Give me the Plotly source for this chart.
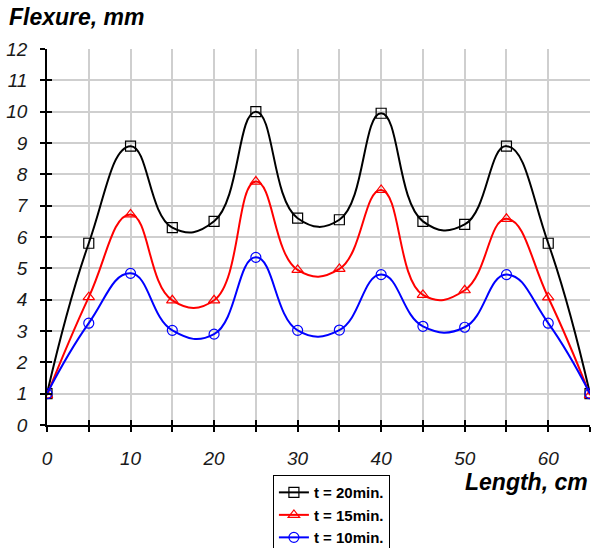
import plotly.graph_objects as go

length_cm = [0, 5, 10, 15, 20, 25, 30, 35, 40, 45, 50, 55, 60, 65]
t20 = [1.0, 5.8, 8.9, 6.3, 6.5, 10.0, 6.6, 6.55, 9.95, 6.5, 6.4, 8.9, 5.8, 1.0]
t15 = [0.95, 4.08, 6.72, 3.98, 3.98, 7.77, 4.95, 4.98, 7.5, 4.15, 4.3, 6.58, 4.07, 0.95]
t10 = [1.0, 3.25, 4.84, 3.02, 2.9, 5.35, 3.02, 3.03, 4.8, 3.15, 3.12, 4.8, 3.25, 1.0]
series_names = ["t = 20min.", "t = 15min.", "t = 10min."]
series_colors = ["#000000", "#ff0000", "#0000ff"]
series_symbols = ["square-open", "triangle-up-open", "circle-open"]

x_ticks = list(range(0, 66, 5))
x_ticktext = [str(v) if v % 10 == 0 and v <= 60 else "" for v in x_ticks]
y_ticks = list(range(0, 13))

fig = go.Figure()
for name, vals, col, sym in zip(series_names, [t20, t15, t10], series_colors, series_symbols):
    fig.add_trace(go.Scatter(
        x=length_cm, y=vals, name=name, mode="lines+markers",
        line=dict(color=col, width=2, shape="spline", smoothing=1.3),
        marker=dict(symbol=sym, size=10, color=col, line=dict(width=1.2, color=col)),
    ))

tickfont = dict(family="Liberation Sans, Arial, sans-serif", size=19, color="#1a1a1a", style="italic")

fig.update_layout(
    width=592, height=548,
    margin=dict(l=47, r=2, t=49, b=123, autoexpand=False),
    paper_bgcolor="white", plot_bgcolor="white",
    font=dict(family="Liberation Sans, Arial, sans-serif"),
    showlegend=True,
    legend=dict(
        xref="container", yref="container",
        x=0.461, y=0.133, xanchor="left", yanchor="top",
        bordercolor="#000000", borderwidth=1, bgcolor="white",
        font=dict(size=15, color="#000000", family="Liberation Sans, Arial, sans-serif", weight="bold"),
        tracegroupgap=0, itemwidth=30,
    ),
    xaxis=dict(
        range=[0, 65], tickmode="array", tickvals=x_ticks, ticktext=x_ticktext,
        showgrid=True, gridcolor="#cfcfcf", gridwidth=1.5,
        showline=True, linecolor="#000000", linewidth=1.5,
        ticks="outside", ticklen=5, tickcolor="#000000", tickwidth=1.5,
        tickfont=tickfont, zeroline=False, ticklabelstandoff=10,
    ),
    yaxis=dict(
        range=[0, 12], tickmode="array", tickvals=y_ticks,
        showgrid=True, gridcolor="#cfcfcf", gridwidth=1.5,
        showline=True, linecolor="#000000", linewidth=1.5,
        ticks="outside", ticklen=5, tickcolor="#000000", tickwidth=1.5,
        tickfont=tickfont, zeroline=False, ticklabelstandoff=9,
    ),
    xaxis2=dict(
        range=[0, 65], overlaying="x", side="bottom", tickmode="array", tickvals=x_ticks,
        showticklabels=False, showgrid=False, ticks="inside", ticklen=5,
        tickcolor="#000000", tickwidth=1.5, zeroline=False, showline=False,
    ),
    yaxis2=dict(
        range=[0, 12], overlaying="y", side="left", tickmode="array", tickvals=y_ticks,
        showticklabels=False, showgrid=False, ticks="inside", ticklen=5,
        tickcolor="#000000", tickwidth=1.5, zeroline=False, showline=False,
    ),
    annotations=[
        dict(text="<b><i>Flexure, mm</i></b>", xref="paper", yref="paper",
             x=-0.074, y=1.045, xanchor="left", yanchor="bottom", showarrow=False,
             font=dict(size=23, color="#000000")),
        dict(text="<b><i>Length, cm</i></b>", xref="paper", yref="paper",
             x=1.0, y=-0.152, xanchor="right", yanchor="middle", showarrow=False,
             font=dict(size=23, color="#000000")),
    ],
)
fig.add_trace(go.Scatter(x=[None], y=[None], xaxis="x2", yaxis="y2", showlegend=False, hoverinfo="skip"))

fig.write_html("out.html")
